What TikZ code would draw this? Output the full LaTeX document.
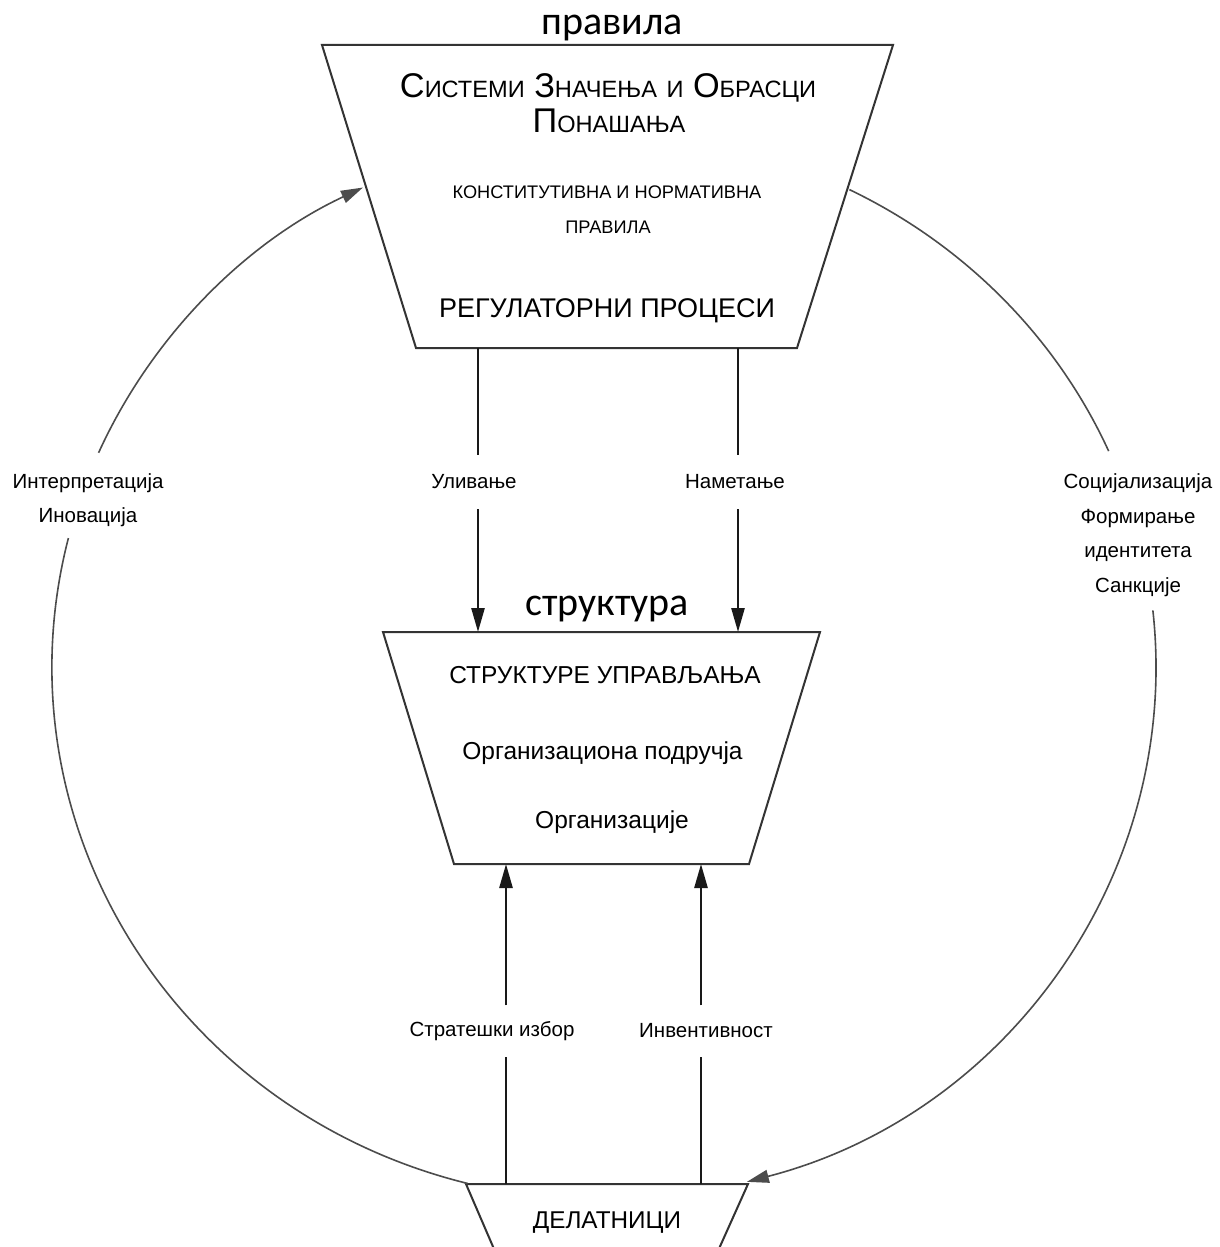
\documentclass[tikz,border=0pt]{standalone}
\usepackage{fontspec}
\setmainfont{Liberation Sans}
\newfontfamily\calib{Carlito}
\usetikzlibrary{arrows.meta,calc}
\newcommand{\fs}[1]{\fontsize{#1}{#1}\selectfont}
\newcommand{\scw}[2]{{\fs{34.3}#1}{\fs{23.6}#2}}
\begin{document}
\begin{tikzpicture}[x=1pt,y=-1pt,
  box/.style={draw=black!80, line width=2pt, line join=miter},
  flowline/.style={draw=black!90, line width=2.6pt},
  flow/.style={flowline, -{Triangle[length=24pt,width=13pt]}},
  cyc/.style={draw=black!70, line width=1.6pt},
  cycarrow/.style={cyc, -{Triangle[length=22pt,width=13pt]}},
  lbl/.style={font=\fontsize{20.5}{34.5}\selectfont, align=center, inner sep=0pt},
  gaplbl/.style={lbl, minimum height=54pt},
  title/.style={font=\calib\fs{40}, anchor=base, inner sep=0pt},
  txt/.style={anchor=base, inner sep=0pt}]

\clip (0,0) rectangle (1219,1247);
\fill[white] (0,0) rectangle (1219,1247);

% ---- trapezoids
\coordinate (TA) at (322,45);  \coordinate (TB) at (893,45);
\coordinate (TC) at (797,348); \coordinate (TD) at (416,348);
\draw[box] (TA) -- (TB) -- (TC) -- (TD) -- cycle;

\coordinate (MA) at (383,632); \coordinate (MB) at (820,632);
\coordinate (MC) at (749,864); \coordinate (MD) at (454,864);
\draw[box] (MA) -- (MB) -- (MC) -- (MD) -- cycle;

\coordinate (BA) at (466,1184); \coordinate (BB) at (748,1184);
\coordinate (BC) at (696,1300); \coordinate (BD) at (516,1300);
\draw[box] (BA) -- (BB) -- (BC) -- (BD) -- cycle;

% ---- titles
\node[title] (rul) at (612,35) {правила};
\node[title] (str) at (607,615) {структура};

% ---- top box text
\node[txt, font=\fs{34.3}] (t1) at (608,97) {\scw{С}{ИСТЕМИ} \scw{З}{НАЧЕЊА} {\fs{23.6}И} \scw{О}{БРАСЦИ}};
\node[txt] (t2) at (609,132) {\scw{П}{ОНАШАЊА}};
\node[txt, font=\fs{18.2}] (t3) at (607,198) {КОНСТИТУТИВНА И НОРМАТИВНА};
\node[txt, font=\fs{18.2}] (t4) at (608,233) {ПРАВИЛА};
\node[txt, font=\fs{27}] (t5) at (607,317) {РЕГУЛАТОРНИ ПРОЦЕСИ};

% ---- middle box text
\node[txt, font=\fs{24.5}] (m1) at (605,683) {СТРУКТУРЕ УПРАВЉАЊА};
\node[txt, font=\fs{24.5}] (m2) at (602.5,759) {Организациона подручја};
\node[txt, font=\fs{24.5}] (m3) at (612,828) {Организације};

% ---- bottom box text
\node[txt, font=\fs{24.3}] (act) at (607,1228) {ДЕЛАТНИЦИ};

% ---- labels on vertical arrows
\node[gaplbl] (ul) at (474,482) {Уливање};
\node[gaplbl] (nm) at (735,482) {Наметање};
\node[gaplbl, minimum height=51pt] (si) at (492,1031) {Стратешки избор};
\node[gaplbl, minimum height=51pt] (inv) at (706,1031) {Инвентивност};

% ---- side labels
\node[lbl] (ii) at (88,500) {Интерпретација\\Иновација};
\node[lbl] (sf) at (1138,535) {Социјализација\\Формирање\\идентитета\\Санкције};

% ---- vertical arrows
\coordinate (a1) at (478,348); \coordinate (a2) at (478,632);
\coordinate (b1) at (738,348); \coordinate (b2) at (738,632);
\coordinate (c1) at (506,1184); \coordinate (c2) at (506,864);
\coordinate (d1) at (701,1184); \coordinate (d2) at (701,864);
\draw[flowline] (a1) -- (a1 |- ul.north);
\draw[flow] (a1 |- ul.south) -- (a2);
\draw[flowline] (b1) -- (b1 |- nm.north);
\draw[flow] (b1 |- nm.south) -- (b2);
\draw[flowline] (c1) -- (c1 |- si.south);
\draw[flow] (c1 |- si.north) -- (c2);
\draw[flowline] (d1) -- (d1 |- inv.south);
\draw[flow] (d1 |- inv.north) -- (d2);

% ---- feedback arcs (ellipse centre E)
\coordinate (E) at (604,667);
\coordinate (L1) at ($(E)+(104.3:552 and 533)$);
\coordinate (L2) at ($(E)+(203.7:552 and 533)$);
\coordinate (R1) at ($(E)+(-63.6:552 and 533)$);
\coordinate (R2) at ($(E)+(-6.1:552 and 533)$);
\draw[cyc] (L1) arc[start angle=104.3, end angle=194, x radius=552, y radius=533];
\draw[cycarrow] (L2) arc[start angle=203.7, end angle=244.1, x radius=552, y radius=533];
\draw[cyc] (R1) arc[start angle=-63.6, end angle=-23.9, x radius=552, y radius=533];
\draw[cycarrow] (R2) arc[start angle=-6.1, end angle=75, x radius=552, y radius=533];
\end{tikzpicture}
\end{document}
